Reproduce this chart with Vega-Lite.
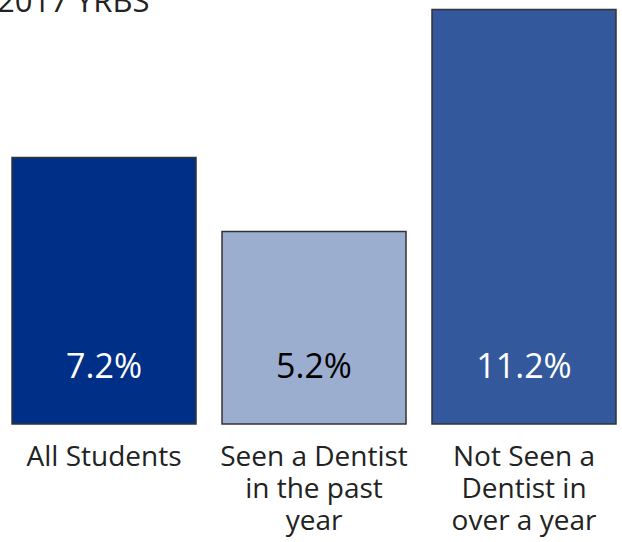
{
  "$schema": "https://vega.github.io/schema/vega-lite/v6.json",
  "width": 622,
  "height": 424,
  "autosize": "none",
  "padding": {"left": 0, "top": 0, "right": 0, "bottom": 118},
  "background": "white",
  "config": {"view": {"stroke": null}, "font": "Open Sans"},
  "title": {"text": "2017 YRBS", "anchor": "start", "frame": "group", "orient": "top", "offset": -43, "dx": -3, "fontSize": 31, "fontWeight": "normal", "font": "Open Sans", "color": "#222222", "baseline": "alphabetic"},
  "data": {"values": [
    {"category": "All Students", "value": 0.072},
    {"category": "Seen a Dentist in the past year", "value": 0.052},
    {"category": "Not Seen a Dentist in over a year", "value": 0.112}
  ]},
  "encoding": {
    "x": {"field": "category", "type": "nominal", "sort": null,
      "scale": {"paddingInner": 0.1238, "paddingOuter": 0.0429, "align": 0.667},
      "axis": {"title": null, "ticks": false, "domain": false, "labelAngle": 0, "labelFontSize": 28, "labelColor": "#222222", "labelFont": "Open Sans", "labelPadding": 19, "labelLineHeight": 32, "labelBaseline": "top", "labelLimit": 0, "labelOverlap": false,
        "labelExpr": "datum.value == 'All Students' ? ['All Students'] : datum.value == 'Seen a Dentist in the past year' ? ['Seen a Dentist', 'in the past', 'year'] : ['Not Seen a', 'Dentist in', 'over a year']"}}
  },
  "layer": [
    {
      "mark": {"type": "bar", "stroke": "#333333", "strokeWidth": 1.5},
      "encoding": {
        "y": {"field": "value", "type": "quantitative", "scale": {"domain": [0, 0.1146], "nice": false}, "axis": null},
        "color": {"field": "category", "type": "nominal", "legend": null,
          "scale": {"domain": ["All Students", "Seen a Dentist in the past year", "Not Seen a Dentist in over a year"], "range": ["#002F87", "#9BAED0", "#33599C"]}}
      }
    },
    {
      "mark": {"type": "text", "fontSize": 34, "dy": -56, "baseline": "middle", "font": "Open Sans"},
      "encoding": {
        "y": {"datum": 0, "type": "quantitative", "scale": {"domain": [0, 0.1146], "nice": false}},
        "text": {"field": "value", "type": "quantitative", "format": ".1%"},
        "color": {"condition": {"test": "datum.category == 'Seen a Dentist in the past year'", "value": "#000000"}, "value": "#ffffff"}
      }
    }
  ]
}
